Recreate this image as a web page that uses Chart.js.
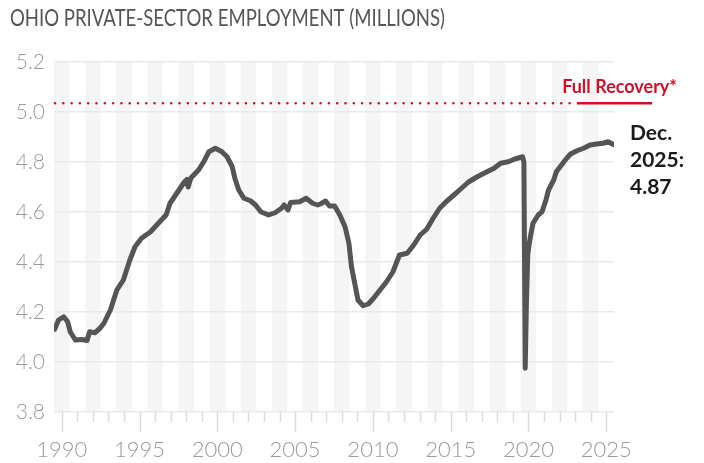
<!DOCTYPE html>
<html><head><meta charset="utf-8">
<script src="https://cdn.jsdelivr.net/npm/chart.js@4.4.1/dist/chart.umd.min.js"></script>
<style>html,body{margin:0;padding:0;background:#fff;}canvas{display:block;}</style>
</head><body>
<canvas id="c" width="704" height="463"></canvas>
<script>
// ---------- data ----------
const chartTitle = 'OHIO PRIVATE-SECTOR EMPLOYMENT (MILLIONS)';
const months = [
 '1990-01','1990-04','1990-08','1990-11','1991-01','1991-05','1991-10','1992-02','1992-04','1992-08',
 '1992-12','1993-03','1993-08','1994-01','1994-06','1994-11','1995-03','1995-08','1996-03','1996-09',
 '1997-03','1997-06','1997-12','1998-05','1998-07','1998-08','1998-10','1998-11','1999-04','1999-08',
 '1999-12','2000-05','2000-10','2001-02','2001-06','2001-08','2001-11','2002-03','2002-08','2002-12',
 '2003-04','2003-10','2004-03','2004-08','2004-10','2005-01','2005-03','2005-10','2006-03','2006-08',
 '2006-12','2007-02','2007-06','2007-09','2008-01','2008-05','2008-09','2008-12','2009-02','2009-05',
 '2009-07','2009-11','2010-03','2010-07','2010-12','2011-05','2011-10','2012-03','2012-09','2013-02',
 '2013-07','2013-12','2014-05','2014-10','2015-03','2015-09','2016-02','2016-08','2017-03','2017-09',
 '2018-04','2018-09','2019-03','2019-08','2020-02','2020-03','2020-04','2020-05','2020-06','2020-07',
 '2020-08','2020-10','2021-02','2021-05','2021-08','2021-10','2022-02','2022-04','2022-08','2022-12',
 '2023-03','2023-08','2024-01','2024-06','2024-11','2025-04','2025-08','2025-12'
];
const employment = [
 4.131,4.168,4.181,4.161,4.121,4.088,4.090,4.086,4.121,4.117,
 4.135,4.155,4.208,4.288,4.328,4.408,4.461,4.495,4.521,4.555,
 4.588,4.635,4.681,4.720,4.730,4.700,4.735,4.741,4.768,4.801,
 4.841,4.855,4.841,4.821,4.781,4.735,4.688,4.655,4.645,4.628,
 4.601,4.588,4.597,4.615,4.628,4.608,4.638,4.641,4.655,4.635,
 4.628,4.632,4.644,4.624,4.624,4.588,4.541,4.475,4.381,4.301,
 4.248,4.225,4.232,4.255,4.288,4.321,4.361,4.428,4.435,4.468,
 4.508,4.531,4.575,4.615,4.641,4.668,4.691,4.719,4.741,4.757,
 4.775,4.795,4.801,4.812,4.821,4.800,3.975,4.250,4.430,4.470,
 4.500,4.555,4.588,4.601,4.648,4.688,4.728,4.761,4.788,4.815,
 4.832,4.845,4.855,4.868,4.872,4.875,4.881,4.870
];
const yTickValues = [3.8, 4.0, 4.2, 4.4, 4.6, 4.8, 5.0, 5.2];
const xLabelYears = [1990, 1995, 2000, 2005, 2010, 2015, 2020, 2025];
const firstYear = 1990, lastYear = 2025;
const recoveryLevel = 5.035;
const recoveryLabel = 'Full Recovery*';
const latestLabel = ['Dec.', '2025:', '4.87'];

// ---------- helpers ----------
const toYear = s => { const [y, m] = s.split('-').map(Number); return y + (m - 0.5) / 12; };
const points = months.map((m, i) => ({ x: toYear(m), y: employment[i] }));
const allYears = [];
for (let y = firstYear; y <= lastYear; y++) allYears.push(y);

const RED = '#d0102a';

const decor = {
  id: 'decor',
  beforeDraw(chart) {
    const { ctx, chartArea: a, scales: { x } } = chart;
    ctx.save();
    ctx.fillStyle = '#f5f5f5';
    allYears.forEach(y => {
      if (y % 2 === 0) {
        const x0 = x.getPixelForValue(y), x1 = x.getPixelForValue(y + 1);
        ctx.fillRect(x0, a.top, x1 - x0, a.bottom - a.top);
      }
    });
    ctx.restore();
  },
  afterDraw(chart) {
    const { ctx, chartArea: a, scales: { x, y } } = chart;
    ctx.save();
    // x tick marks
    ctx.strokeStyle = '#dcdcdc';
    ctx.lineWidth = 1.5;
    allYears.forEach(yr => {
      const px = Math.round(x.getPixelForValue(yr + 0.5)) + 0.5;
      const len = yr % 5 === 0 ? 20 : 10;
      ctx.beginPath(); ctx.moveTo(px, a.bottom); ctx.lineTo(px, a.bottom + len); ctx.stroke();
    });
    // recovery line
    const ry = y.getPixelForValue(recoveryLevel);
    const solidStart = x.getPixelForValue(2023.62);
    const solidEnd = a.right + 38;
    ctx.strokeStyle = RED;
    ctx.lineCap = 'round';
    ctx.lineWidth = 2.6;
    ctx.setLineDash([0, 8.3]);
    ctx.beginPath(); ctx.moveTo(a.left + 1, ry); ctx.lineTo(solidStart - 4, ry); ctx.stroke();
    ctx.setLineDash([]);
    ctx.lineCap = 'butt';
    ctx.beginPath(); ctx.moveTo(solidStart, ry); ctx.lineTo(solidEnd, ry); ctx.stroke();
    ctx.fillStyle = RED;
    ctx.font = 'bold 18px Lato';
    ctx.textAlign = 'right';
    ctx.textBaseline = 'alphabetic';
    ctx.fillText(recoveryLabel, a.right + 63, ry - 10);
    // latest value label
    ctx.fillStyle = '#1a1a1a';
    ctx.font = 'bold 21px Lato';
    ctx.textAlign = 'left';
    latestLabel.forEach((t, i) => ctx.fillText(t, a.right + 16, a.top + 78 + i * 27));
    // title, fitted to its width
    ctx.fillStyle = '#555555';
    ctx.font = '24px Lato';
    const w = ctx.measureText(chartTitle).width;
    const sx = 435 / w;
    ctx.translate(10, 26);
    ctx.scale(sx, 1);
    ctx.fillText(chartTitle, 0, 0);
    ctx.restore();
  }
};

new Chart(document.getElementById('c'), {
  type: 'line',
  data: { datasets: [{
    data: points,
    borderColor: '#555555',
    borderWidth: 5,
    pointRadius: 0,
    tension: 0,
    borderCapStyle: 'round',
    borderJoinStyle: 'round',
    fill: false
  }]},
  options: {
    responsive: false,
    animation: false,
    devicePixelRatio: 1,
    layout: { padding: { top: 62, right: 90, left: 0, bottom: 0 } },
    plugins: { legend: { display: false }, tooltip: { enabled: false }, title: { display: false } },
    scales: {
      x: {
        type: 'linear', min: firstYear, max: lastYear + 1,
        afterBuildTicks: s => { s.ticks = allYears.map(v => ({ value: v + 0.5 })); },
        afterFit: s => { s.height = 51; },
        ticks: {
          autoSkip: false, maxRotation: 0, padding: 5,
          color: '#9a9a9a', font: { family: 'Lato', size: 22, weight: '300' },
          callback: v => { const yr = Math.round(v - 0.5); return xLabelYears.includes(yr) ? String(yr) : ''; }
        },
        grid: { drawOnChartArea: false, tickLength: 20, tickColor: 'rgba(0,0,0,0)' },
        border: { display: false }
      },
      y: {
        min: 3.8, max: 5.2,
        afterBuildTicks: s => { s.ticks = yTickValues.map(v => ({ value: v })); },
        afterFit: s => { s.width = 54; },
        ticks: {
          padding: 9, color: '#9a9a9a', font: { family: 'Lato', size: 21, weight: '300' },
          callback: v => Number(v).toFixed(1)
        },
        grid: { color: '#e9e9e9', lineWidth: 1.5, drawTicks: false },
        border: { display: false }
      }
    }
  },
  plugins: [decor]
});
</script>
</body></html>
